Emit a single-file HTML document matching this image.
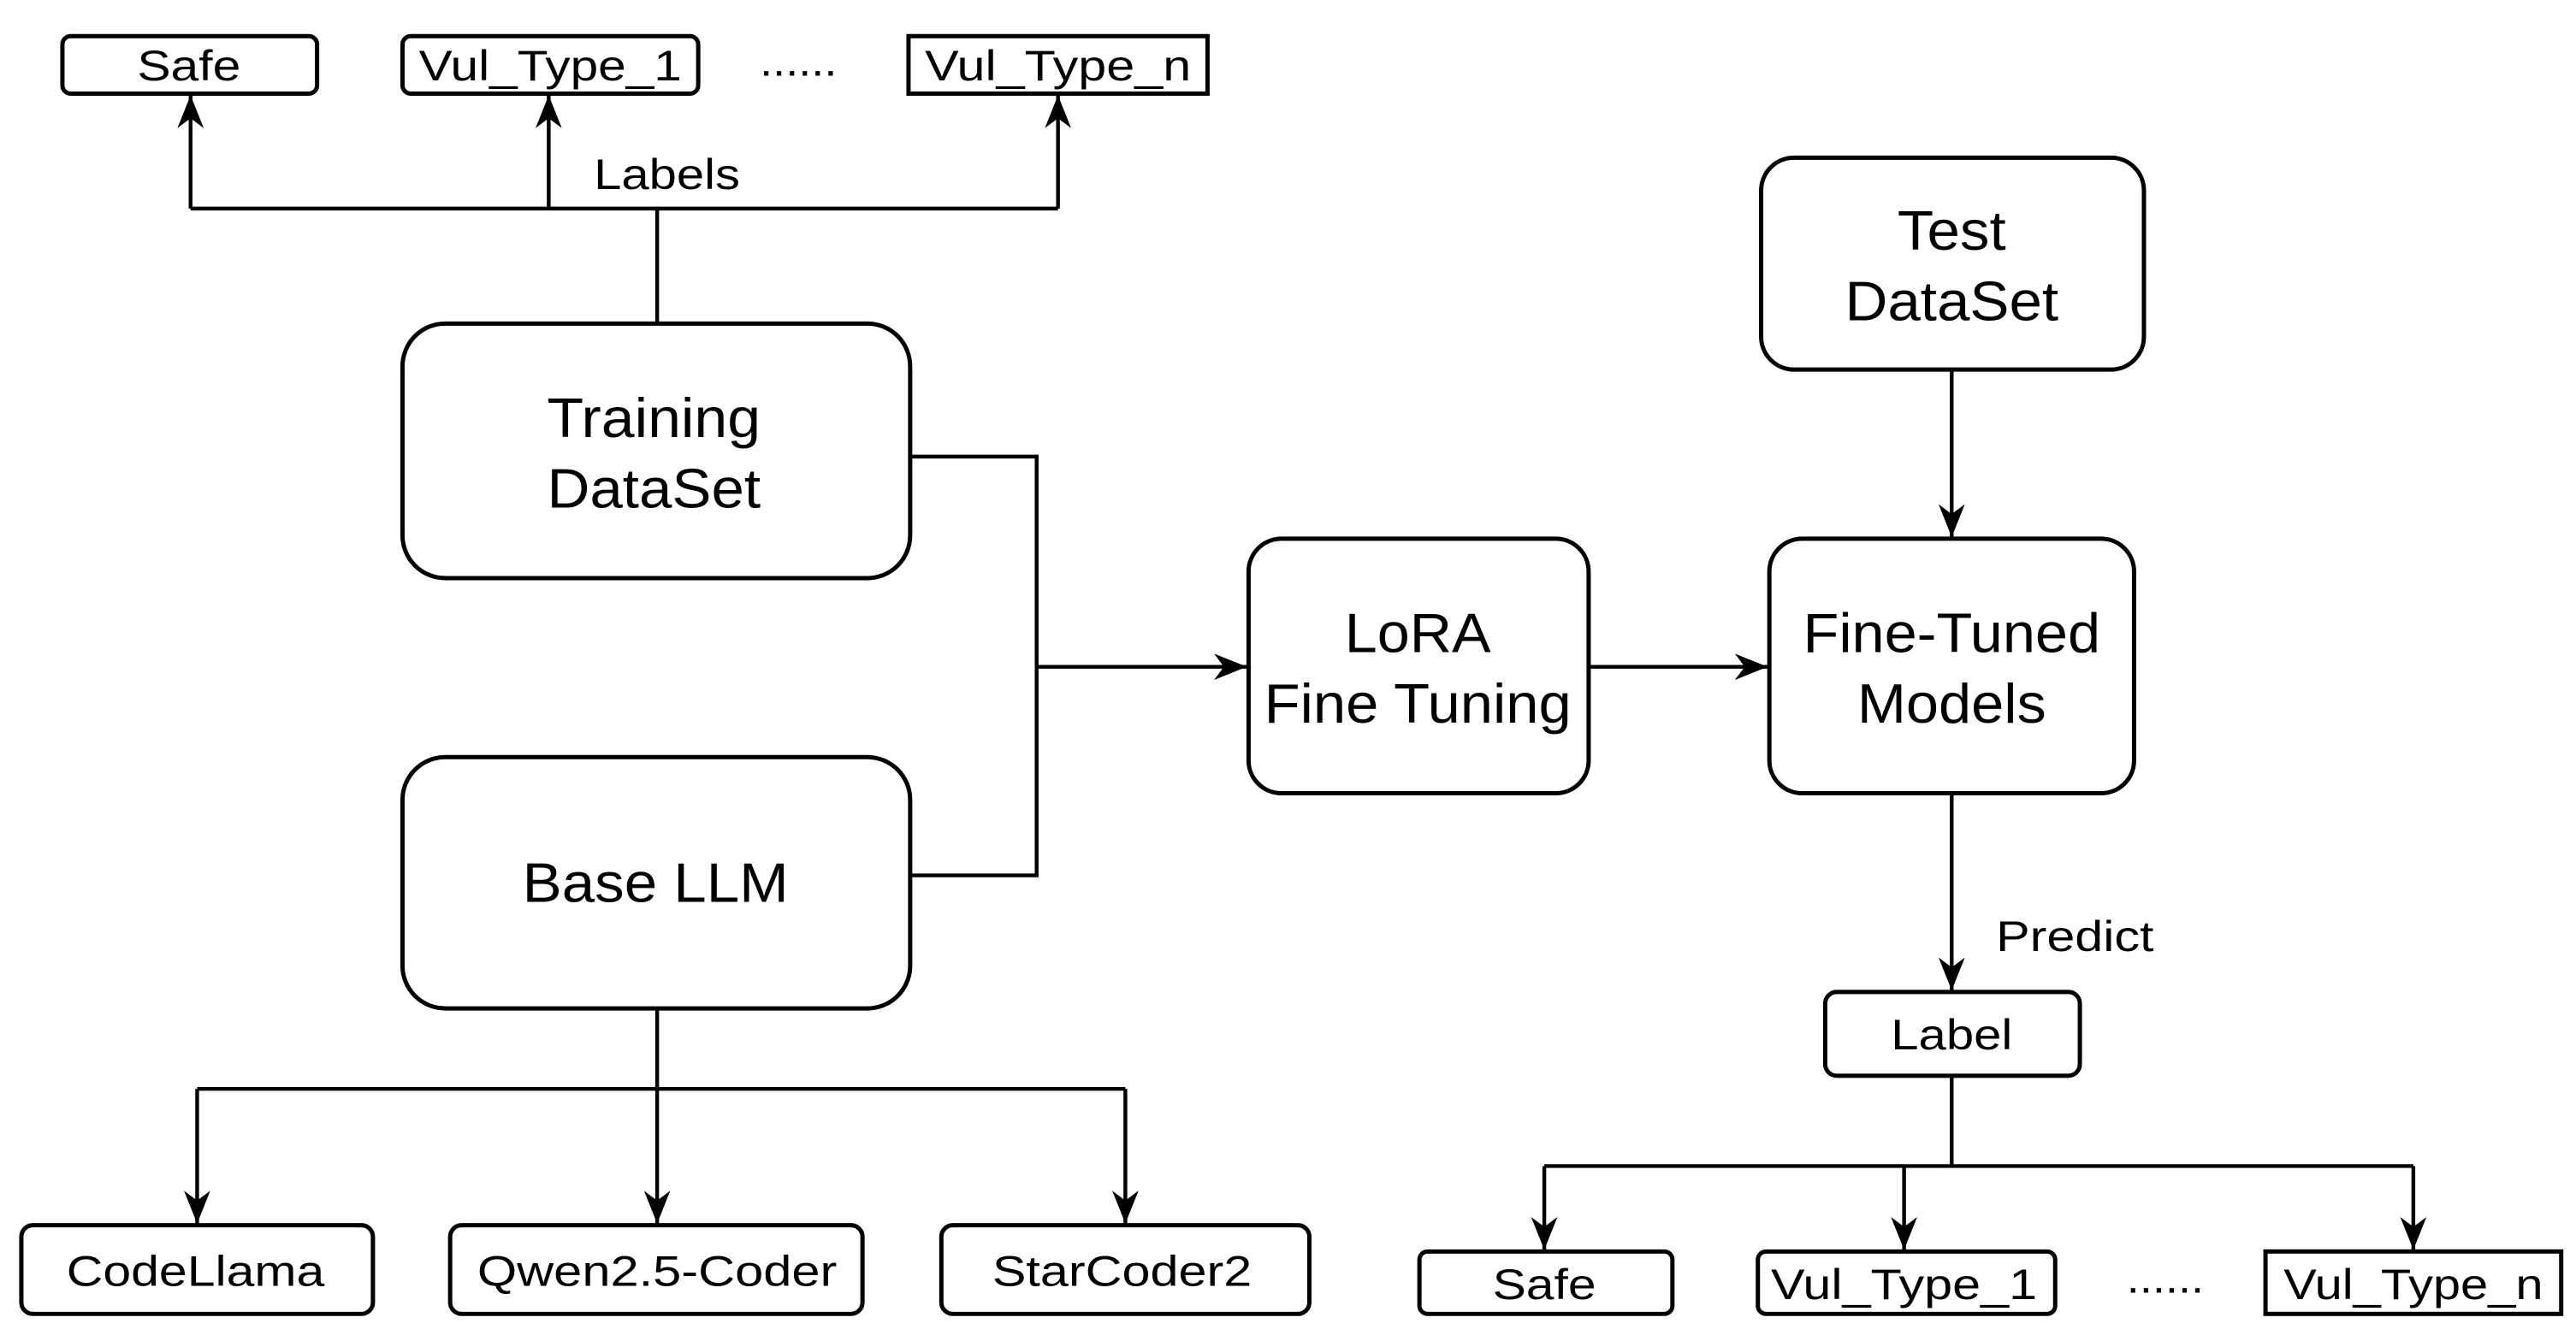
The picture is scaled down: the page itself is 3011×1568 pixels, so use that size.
<!DOCTYPE html>
<html><head><meta charset="utf-8"><style>html,body{margin:0;padding:0;background:#fff}svg{display:block}</style></head>
<body>
<svg width="3011" height="1568" viewBox="0 0 1568 816.5" preserveAspectRatio="none" xmlns="http://www.w3.org/2000/svg">
<defs>
<marker id="a" viewBox="0 0 20 16" refX="20" refY="8" markerWidth="20" markerHeight="16" markerUnits="userSpaceOnUse" orient="auto">
<path d="M0,0 L20,8 L0,16 L6,8 Z" fill="#000"/>
</marker>
</defs>
<g fill="none" stroke="#000" stroke-width="2.3">
<path d="M116,127 H644 M400,127 V197"/>
<path d="M116,127 V58" marker-end="url(#a)"/>
<path d="M334,127 V58" marker-end="url(#a)"/>
<path d="M644,127 V58" marker-end="url(#a)"/>
<path d="M554,278 H631 V533 H554" />
<path d="M631,406 H759" marker-end="url(#a)"/>
<path d="M967,406 H1076" marker-end="url(#a)"/>
<path d="M1188,225 V327" marker-end="url(#a)"/>
<path d="M1188,483 V603" marker-end="url(#a)"/>
<path d="M1188,655 V710 M940,710 H1469"/>
<path d="M940,710 V761" marker-end="url(#a)"/>
<path d="M1159,710 V761" marker-end="url(#a)"/>
<path d="M1469,710 V761" marker-end="url(#a)"/>
<path d="M400,614 V663 M120,663 H685"/>
<path d="M120,663 V745" marker-end="url(#a)"/>
<path d="M400,663 V745" marker-end="url(#a)"/>
<path d="M685,663 V745" marker-end="url(#a)"/>
</g>
<g fill="#fff" stroke="#000" stroke-width="2.6">
<rect x="38" y="22" width="155" height="35" rx="5"/>
<rect x="245" y="22" width="180" height="35" rx="5"/>
<rect x="553" y="22" width="182" height="35"/>
<rect x="245" y="197" width="309" height="155" rx="26"/>
<rect x="245" y="461" width="309" height="153" rx="26"/>
<rect x="760" y="328" width="207" height="155" rx="20"/>
<rect x="1077" y="328" width="222" height="155" rx="20"/>
<rect x="1072" y="96" width="233" height="129" rx="20"/>
<rect x="1111" y="604" width="155" height="51" rx="7"/>
<rect x="864" y="762" width="154" height="38" rx="5"/>
<rect x="1070" y="762" width="181" height="38" rx="5"/>
<rect x="1379" y="762" width="180" height="38"/>
<rect x="13" y="746" width="214" height="54" rx="7"/>
<rect x="274" y="746" width="251" height="54" rx="7"/>
<rect x="573" y="746" width="224" height="54" rx="7"/>
</g>
<g font-family="Liberation Sans, Arial, sans-serif" fill="#000" text-anchor="middle">
<g font-size="26">
<text x="115" y="49" textLength="63" lengthAdjust="spacingAndGlyphs">Safe</text>
<text x="335" y="49" textLength="160" lengthAdjust="spacingAndGlyphs">Vul_Type_1</text>
<text x="486" y="46" textLength="47" lengthAdjust="spacingAndGlyphs">......</text>
<text x="644" y="49" textLength="162" lengthAdjust="spacingAndGlyphs">Vul_Type_n</text>
<text x="406" y="115" textLength="89" lengthAdjust="spacingAndGlyphs">Labels</text>
<text x="1263" y="579" textLength="96" lengthAdjust="spacingAndGlyphs">Predict</text>
<text x="1188" y="639" textLength="74" lengthAdjust="spacingAndGlyphs">Label</text>
<text x="940" y="791" textLength="63" lengthAdjust="spacingAndGlyphs">Safe</text>
<text x="1159" y="791" textLength="162" lengthAdjust="spacingAndGlyphs">Vul_Type_1</text>
<text x="1318" y="787" textLength="47" lengthAdjust="spacingAndGlyphs">......</text>
<text x="1469" y="791" textLength="158" lengthAdjust="spacingAndGlyphs">Vul_Type_n</text>
<text x="119" y="783" textLength="157" lengthAdjust="spacingAndGlyphs">CodeLlama</text>
<text x="400" y="783" textLength="219" lengthAdjust="spacingAndGlyphs">Qwen2.5-Coder</text>
<text x="683" y="783" textLength="158" lengthAdjust="spacingAndGlyphs">StarCoder2</text>
</g>
<g font-size="34">
<text x="398" y="266" textLength="130" lengthAdjust="spacingAndGlyphs">Training</text>
<text x="398" y="309" textLength="130" lengthAdjust="spacingAndGlyphs">DataSet</text>
<text x="399" y="549" textLength="162" lengthAdjust="spacingAndGlyphs">Base LLM</text>
<text x="863" y="397" textLength="89" lengthAdjust="spacingAndGlyphs">LoRA</text>
<text x="863" y="440" textLength="187" lengthAdjust="spacingAndGlyphs">Fine Tuning</text>
<text x="1188" y="397" textLength="181" lengthAdjust="spacingAndGlyphs">Fine-Tuned</text>
<text x="1188" y="440" textLength="115" lengthAdjust="spacingAndGlyphs">Models</text>
<text x="1188" y="152" textLength="66" lengthAdjust="spacingAndGlyphs">Test</text>
<text x="1188" y="195" textLength="130" lengthAdjust="spacingAndGlyphs">DataSet</text>
</g>
</g>
</svg>
</body></html>
